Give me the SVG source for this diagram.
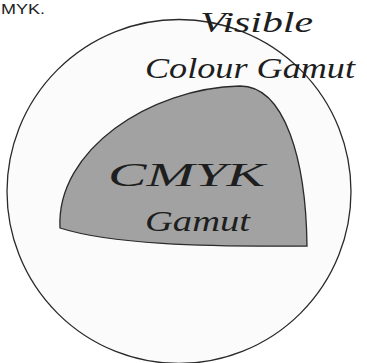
<svg xmlns="http://www.w3.org/2000/svg" width="367" height="363" viewBox="0 0 367 363">
  <style>
    .outline { stroke: #2a2a2a; stroke-width: 1.3; }
    .script { font-family: "Liberation Serif", "DejaVu Serif", serif; font-style: italic; fill: #1e1e1e; }
    .caption { font-family: "Liberation Sans", Arial, sans-serif; fill: #222; }
  </style>
  <rect x="0" y="0" width="367" height="363" fill="#ffffff"/>
  <text class="caption" x="1" y="13.5" font-size="14" textLength="44" lengthAdjust="spacingAndGlyphs">MYK.</text>
  <g id="visible-gamut">
    <circle class="outline" cx="179" cy="191.5" r="172" fill="#fbfbfb"/>
  </g>
  <g id="cmyk-gamut">
    <path class="outline" fill="#a2a2a2" d="M60,228 C56,150 150,88 240,86 C285,86 306,160 307,246 C200,247 110,244 60,228 Z"/>
    <text class="script" x="108" y="186" font-size="33" textLength="157" lengthAdjust="spacingAndGlyphs">CMYK</text>
    <text class="script" x="145" y="231" font-size="30" textLength="105" lengthAdjust="spacingAndGlyphs">Gamut</text>
  </g>
  <g id="labels">
    <text class="script" x="200" y="32" font-size="29" textLength="113" lengthAdjust="spacingAndGlyphs">Visible</text>
    <text class="script" x="145" y="78" font-size="29" textLength="210" lengthAdjust="spacingAndGlyphs">Colour Gamut</text>
  </g>
  <g id="connectors"/>
</svg>
